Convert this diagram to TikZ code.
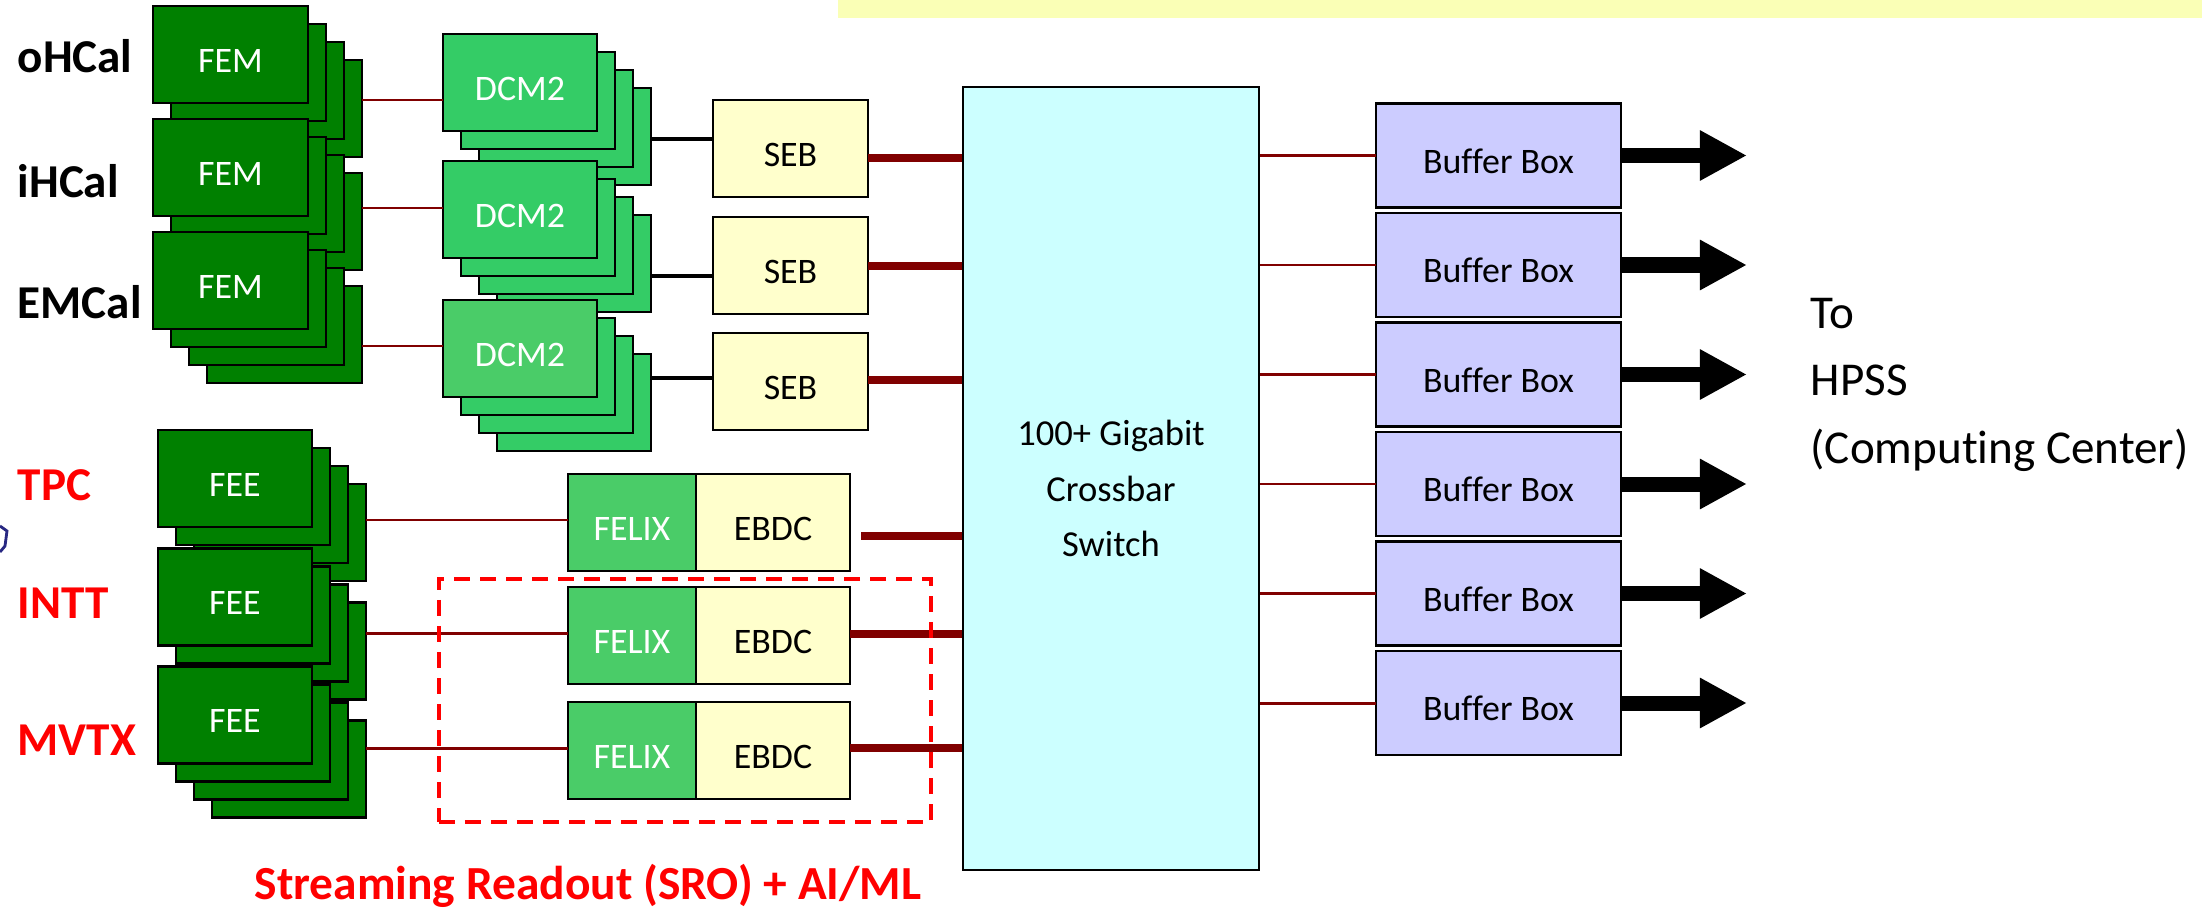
\documentclass[tikz,border=0pt]{standalone}
\usepackage{fontspec}
\setmainfont{Carlito}[Ligatures=NoCommon]
\usetikzlibrary{arrows.meta, positioning}
\definecolor{femgreen}{RGB}{0, 128, 0}
\definecolor{dcmgreen}{RGB}{52, 204, 102}
\definecolor{felixgreen}{RGB}{74, 204, 104}
\definecolor{sebyellow}{RGB}{255, 255, 204}
\definecolor{switchcyan}{RGB}{204, 255, 255}
\definecolor{bufferblue}{RGB}{204, 204, 255}
\definecolor{linkred}{RGB}{128, 0, 0}
\definecolor{labelred}{RGB}{255, 0, 0}
\definecolor{bandyellow}{RGB}{250, 255, 182}
\definecolor{logonavy}{RGB}{40, 40, 130}

\begin{document}
\begin{tikzpicture}[
    x=0.01cm, y=-0.01cm,
    card/.style={
        draw=black,
        line width=0.65pt,
        minimum width=1.54cm,
        minimum height=0.97cm,
        inner sep=0pt,
        outer sep=0pt,
        text height=0.35cm,
        text depth=0cm,
        font=\fontsize{10.2}{12}\selectfont
    },
    femcard/.style={card, fill=femgreen, text=white, minimum width=1.55cm},
    dcmcard/.style={card, fill=dcmgreen, text=white},
    sebbox/.style={card, fill=sebyellow, minimum width=1.55cm},
    felixbox/.style={card, fill=felixgreen, text=white, minimum width=1.28cm},
    ebdcbox/.style={card, fill=sebyellow},
    bufferbox/.style={card, fill=bufferblue, minimum width=2.45cm, minimum height=1.04cm},
    switchbox/.style={
        draw=black,
        line width=0.65pt,
        fill=switchcyan,
        minimum width=2.96cm,
        minimum height=7.83cm,
        inner sep=0pt
    },
    thinlink/.style={draw=linkred, line width=0.85pt},
    thicklink/.style={draw=linkred, line width=2.1pt},
    blacklink/.style={draw=black, line width=0.9pt},
    outarrow/.style={-{Triangle[length=0.47cm, width=0.47cm]}, line width=0.15cm},
    detlabel/.style={anchor=base west, inner sep=0pt, font=\fontsize{13.4}{16}\selectfont\bfseries},
    hpsstext/.style={anchor=base west, inner sep=0pt, font=\fontsize{13.4}{16}\selectfont},
    srobox/.style={
        draw=labelred,
        line width=1.1pt,
        dash pattern=on 0.16cm off 0.1cm,
        minimum width=4.92cm,
        minimum height=2.43cm,
        inner sep=0pt
    }
]

% Page and top band
\useasboundingbox (0,0) rectangle (2202,909);
\path[fill=white] (0,0) rectangle (2202,909);
\fill[bandyellow] (838,0) rectangle (2202,18);
\draw[logonavy, line width=0.8pt] (0,526) -- (7,531) -- (5,546) -- (0,552);

% ==================== DETECTOR LABELS ====================
\node[detlabel] (ohcal) at (17,73) {oHCal};
\node[detlabel] (ihcal) at (17,197) {iHCal};
\node[detlabel] (emcal) at (17,318) {EMCal};
\node[detlabel, text=labelred] (tpc) at (17,500) {TPC};
\node[detlabel, text=labelred] (intt) at (17,618) {INTT};
\node[detlabel, text=labelred] (mvtx) at (17,755) {MVTX};

% ==================== FEM STACKS ====================
\foreach \n/\yy in {1/54.5, 2/167.5, 3/280.5} {
    \foreach \k in {3,2,1}
        \node[femcard] (fem\n-\k) at (230.5+18*\k, \yy+18*\k) {};
    \node[femcard] (fem\n) at (230.5, \yy) {FEM};
}

% ==================== DCM2 STACKS ====================
\foreach \n/\yy/\fc in {1/82.5/dcmgreen, 2/209.5/dcmgreen, 3/348.5/felixgreen} {
    \foreach \k in {3,2,1}
        \node[dcmcard] (dcm\n-\k) at (520+18*\k, \yy+18*\k) {};
    \node[dcmcard, fill=\fc] (dcm\n) at (520, \yy) {DCM2};
}

% ==================== SEB ====================
\node[sebbox] (seb1) at (790.5,148.5) {SEB};
\node[sebbox] (seb2) at (790.5,265.5) {SEB};
\node[sebbox] (seb3) at (790.5,381.5) {SEB};

% ==================== FEE STACKS ====================
\foreach \n/\yy in {1/478.5, 2/597, 3/715} {
    \foreach \k in {3,2,1}
        \node[femcard, minimum width=1.54cm] (fee\n-\k) at (235+18*\k, \yy+18*\k) {};
    \node[femcard, minimum width=1.54cm] (fee\n) at (235, \yy) {FEE};
}

% ==================== FELIX / EBDC ====================
\foreach \n/\yy in {1/522.5, 2/635.5, 3/750.5} {
    \node[felixbox] (felix\n) at (632, \yy) {FELIX};
    \node[ebdcbox, right=0pt of felix\n] (ebdc\n) {EBDC};
}

% ==================== SWITCH ====================
\node[switchbox, label={[align=center, yshift=-0.1cm, font=\fontsize{10.4}{15.9}\selectfont]center:100+ Gigabit\\Crossbar\\Switch}] (switch) at (1111,478.5) {};

% ==================== CALORIMETER LINKS ====================
\foreach \n/\la/\lb/\lc in {1/100/139/158, 2/208/276/266, 3/346/378/380} {
    \draw[thinlink] (fem\n-3.east |- 0,\la) -- (dcm\n.west |- 0,\la);
    \draw[blacklink] (dcm\n-3.east |- 0,\lb) -- (seb\n.west |- 0,\lb);
    \draw[thicklink] (seb\n.east |- 0,\lc) -- (switch.west |- 0,\lc);
}

% ==================== TRACKER LINKS ====================
\foreach \n/\ly in {1/520, 2/633, 3/748}
    \draw[thinlink] (fee\n-3.east |- 0,\ly) -- (felix\n.west |- 0,\ly);
\coordinate (gap1) at (861,536);
\draw[thicklink] (gap1) -- (switch.west |- gap1);
\draw[thicklink] (ebdc2.east |- 0,634) -- (switch.west |- 0,634);
\draw[thicklink] (ebdc3.east |- 0,748) -- (switch.west |- 0,748);

% ==================== BUFFER BOXES ====================
\foreach \i/\yy in {1/155.5, 2/265, 3/374.5, 4/484, 5/593.5, 6/703} {
    \node[bufferbox] (bb\i) at (1498.5, \yy) {Buffer Box};
    \coordinate (out\i) at (1747, \yy);
    \draw[thinlink] (switch.east |- bb\i.west) -- (bb\i.west);
    \draw[outarrow] (bb\i.east) -- (out\i);
}

% Destination
\node[hpsstext] (to) at (1810,328) {To};
\node[hpsstext] (hpss) at (1810,395) {HPSS};
\node[hpsstext] (center) at (1810,463) {(Computing Center)};

% ==================== STREAMING READOUT ====================
\node[srobox] (sro) at (685,700.5) {};
\node[anchor=base, text=labelred, font=\fontsize{13.5}{16}\selectfont\bfseries] (srolabel) at (588,899) {Streaming Readout (SRO) + AI/ML};

\end{tikzpicture}
\end{document}
